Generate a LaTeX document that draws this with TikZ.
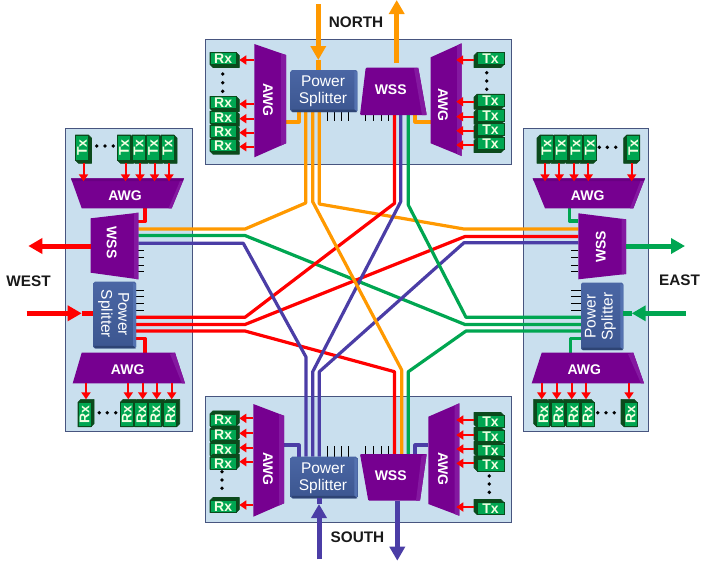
\documentclass[tikz,border=0pt]{standalone}
\usepackage{fontspec}
\setmainfont{Liberation Sans}
\usetikzlibrary{arrows.meta,calc}
\definecolor{panelfill}{HTML}{C9DFEE}
\definecolor{paneledge}{HTML}{47557F}
\definecolor{wor}{HTML}{FF9900}
\definecolor{wre}{HTML}{FF0000}
\definecolor{wgr}{HTML}{00A651}
\definecolor{wpu}{HTML}{4B3DA6}
\definecolor{purp}{HTML}{760090}
\definecolor{purpl}{HTML}{8418A0}
\definecolor{purpd}{HTML}{690082}
\definecolor{stl}{HTML}{5472B0}
\definecolor{sta}{HTML}{4A66A4}
\definecolor{stb}{HTML}{3C5690}
\definecolor{std}{HTML}{2E4474}
\definecolor{gfront}{HTML}{00A651}
\definecolor{gback}{HTML}{0B4A1C}
\definecolor{gtxt}{HTML}{F2FFE2}
\tikzset{
  inv/.style={inner sep=0pt,outer sep=0pt,draw=none},
  panel/.style={inv,fill=panelfill,draw=paneledge,line width=1pt},
  wire/.style={line width=3.2pt,line join=round},
  big/.style={line width=5pt},
  bighead/.style={line width=5pt,-{Triangle[width=15pt,length=14pt]}},
  sarr/.style={wre,line width=2pt,-{Triangle[width=9pt,length=7pt]}},
  tick/.style={black,line width=0.9pt},
  dotty/.style={circle,fill=black,inner sep=0pt,minimum size=3.8pt},
  shapetxt/.style={inv,text=white,font=\fontsize{14}{14}\selectfont\bfseries},
  sptxt/.style={inv,text=white,align=center,font=\fontsize{15.5}{17}\selectfont},
  gtext/.style={inv,text=gtxt,font=\fontsize{14}{14}\selectfont\bfseries},
  title/.style={inv,text=black!90,font=\fontsize{15.3}{16}\selectfont\bfseries},
}
% invisible or styled rectangle given by its corners
\newcommand\bodyrect[6][inv]{%
  \pgfmathsetmacro\bw{abs((#5)-(#3))}\pgfmathsetmacro\bh{abs((#6)-(#4))}%
  \pgfmathsetmacro\bx{((#3)+(#5))/2}\pgfmathsetmacro\by{((#4)+(#6))/2}%
  \node[#1,minimum width=\bw pt,minimum height=\bh pt] (#2) at (\bx,\by) {};}
% 3D green transceiver: name, outer corners, depth dx dy, rotation, text
\newcommand\gbox[9]{%
  \bodyrect{#1}{#2}{#3}{#4}{#5}%
  \pgfmathsetmacro\ga{abs(#6)}\pgfmathsetmacro\gb{abs(#7)}%
  \pgfmathparse{(#6)*(#7)>0?1:0}%
  \ifdim\pgfmathresult pt>0.5pt
    \fill[gback,draw=gback,line width=.6pt,line join=round] (#2,#3) -- (#4-\ga,#3) -- (#4,#3+\gb) -- (#4,#5) -- (#2+\ga,#5) -- (#2,#5-\gb) -- cycle;
  \else
    \fill[gback,draw=gback,line width=.6pt,line join=round] (#2+\ga,#3) -- (#4,#3) -- (#4,#5-\gb) -- (#4-\ga,#5) -- (#2,#5) -- (#2,#3+\gb) -- cycle;
  \fi
  \pgfmathsetmacro\gx{((#2)+(#4)-(#6))/2}\pgfmathsetmacro\gy{((#3)+(#5)-(#7))/2}%
  \pgfmathsetmacro\gwid{abs((#4)-(#2))-\ga}\pgfmathsetmacro\ghei{abs((#5)-(#3))-\gb}%
  \node[inv,fill=gfront,draw=gback,line width=.6pt,minimum width=\gwid pt,minimum height=\ghei pt] (#1f) at (\gx,\gy) {};
  \node[gtext,rotate=#8] (#1t) at (\gx,\gy) {#9};}
% splitter block, main rectangle with bevels
\newcommand\splitter[5]{%
  \shade[top color=sta,bottom color=stb,rounded corners=1.5pt] (#2,#3) rectangle (#4,#5);
  \fill[#1] (#4-3,#3+1) -- (#4,#3+2.5) -- (#4,#5-1) -- (#4-3,#5-2.5) -- cycle;
  \fill[std] (#2+1,#5-2.5) -- (#4-3,#5-2.5) -- (#4,#5) -- (#2+2,#5) -- cycle;}
\begin{document}
\begin{tikzpicture}[x=1pt,y=-1pt]
\useasboundingbox (0,0) rectangle (706,566);
% panels
\bodyrect[panel]{pN}{205.5}{39}{511}{164}
\bodyrect[panel]{pW}{65.5}{128}{192}{431.6}
\bodyrect[panel]{pE}{523}{128}{648.3}{431.6}
\bodyrect[panel]{pS}{205.5}{396}{511}{522.7}
% component footprints
\bodyrect{awgNL}{254.3}{44}{286}{157.3}
\bodyrect{awgNR}{430.7}{43.3}{461.7}{156}
\bodyrect{spN}{290.7}{70}{357.3}{112}
\bodyrect{wssN}{360}{67.7}{426.7}{115}
\bodyrect{awgSL}{253.3}{404}{284}{516.7}
\bodyrect{awgSR}{428.3}{403.3}{459.3}{515.7}
\bodyrect{spS}{290.7}{456.7}{357.3}{498.3}
\bodyrect{wssS}{360}{454}{426.7}{500.7}
\bodyrect{awgWT}{71}{178.3}{184}{208.3}
\bodyrect{awgWB}{72.7}{352.7}{185}{383.3}
\bodyrect{wssW}{90.7}{212.7}{138.3}{279.3}
\bodyrect{spW}{93.3}{281.7}{136}{348.3}
\bodyrect{awgET}{532.7}{178.3}{645}{208.3}
\bodyrect{awgEB}{531.7}{352.7}{644}{383.3}
\bodyrect{wssE}{578.3}{213.3}{626}{279.3}
\bodyrect{spE}{581}{282.7}{623.3}{350}
% way points of the long fibres
\coordinate (o1a) at (245,229);   \coordinate (o1b) at (305.7,203);
\coordinate (o2a) at (312.7,201.7); \coordinate (o2b) at (401.7,370);
\coordinate (o3a) at (319.3,204); \coordinate (o3b) at (464,229);
\coordinate (g1a) at (245,235.5); \coordinate (g1b) at (465,324.5);
\coordinate (p1a) at (243.3,243.3); \coordinate (p1b) at (306,357);
\coordinate (r1a) at (245,317.3); \coordinate (r1b) at (394.5,203.3);
\coordinate (r2a) at (245,324.5); \coordinate (r2b) at (465,236.5);
\coordinate (r3a) at (245,331);   \coordinate (r3b) at (394.5,371.7);
\coordinate (p2a) at (400.7,201.7); \coordinate (p2b) at (312.7,371.7);
\coordinate (g2a) at (408.3,205); \coordinate (g2b) at (466,317.3);
\coordinate (p3a) at (464,242.7); \coordinate (p3b) at (319.3,371.7);
\coordinate (g3a) at (466,331);   \coordinate (g3b) at (408.3,371.7);
% long fibres
\draw[wire,wor] (wssW.east |- o1a) -- (o1a) -- (o1b) -- (spN.south -| o1b);
\draw[wire,wor] (spN.south -| o3a) -- (o3a) -- (o3b) -- (wssE.west |- o3b);
\draw[wire,wgr] (wssW.east |- g1a) -- (g1a) -- (g1b) -- (spE.west |- g1b);
\draw[wire,wre] (spW.east |- r1a) -- (r1a) -- (r1b) -- (wssN.south -| r1b);
\draw[wire,wre] (spW.east |- r2a) -- (r2a) -- (r2b) -- (wssE.west |- r2b);
\draw[wire,wre] (spW.east |- r3a) -- (r3a) -- (r3b) -- (wssS.north -| r3b);
\draw[wire,wpu] (wssW.east |- p1a) -- (p1a) -- (p1b) -- (spS.north -| p1b);
\draw[wire,wpu] (wssN.south -| p2a) -- (p2a) -- (p2b) -- (spS.north -| p2b);
\draw[wire,wpu] (wssE.west |- p3a) -- (p3a) -- (p3b) -- (spS.north -| p3b);
\draw[wire,wgr] (wssN.south -| g2a) -- (g2a) -- (g2b) -- (spE.west |- g2b);
\draw[wire,wgr] (spE.west |- g3a) -- (g3a) -- (g3b) -- (wssS.north -| g3b);
\draw[wire,wor] (spN.south -| o2a) -- (o2a) -- (o2b) -- (wssS.north -| o2b);
% AWG to splitter / WSS stubs
\coordinate (sNa) at (299,122); \coordinate (sNb) at (415,122);
\coordinate (sSa) at (299,445); \coordinate (sSb) at (415,445);
\coordinate (sWa) at (145,221.7); \coordinate (sWb) at (145,338.3);
\coordinate (sEa) at (569.3,221); \coordinate (sEb) at (570.7,338.3);
\draw[wire,wor] (awgNL.east |- sNa) -- (sNa) -- (spN.south -| sNa);
\draw[wire,wor] (awgNR.west |- sNb) -- (sNb) -- (wssN.south -| sNb);
\draw[wire,wpu] (awgSL.east |- sSa) -- (sSa) -- (spS.north -| sSa);
\draw[wire,wpu] (awgSR.west |- sSb) -- (sSb) -- (wssS.north -| sSb);
\draw[wire,wre] (awgWT.south -| sWa) -- (sWa) -- (wssW.east |- sWa);
\draw[wire,wre] (spW.east |- sWb) -- (sWb) -- (awgWB.north -| sWb);
\draw[wire,wgr] (awgET.south -| sEa) -- (sEa) -- (wssE.west |- sEa);
\draw[wire,wgr] (spE.west |- sEb) -- (sEb) -- (awgEB.north -| sEb);
% unused ports
\foreach \i/\x in {a/327.3,b/334.3,c/341.3,d/348.3}{
  \coordinate (tN\i) at (\x,120.5); \draw[tick] (spN.south -| tN\i) -- (tN\i);
  \coordinate (tS\i) at (\x,446);   \draw[tick] (spS.north -| tS\i) -- (tS\i);}
\foreach \i/\x in {a/365.7,b/373.3,c/381,d/388.3}{
  \coordinate (uN\i) at (\x,120.5); \draw[tick] (wssN.south -| uN\i) -- (uN\i);
  \coordinate (uS\i) at (\x,446);   \draw[tick] (wssS.north -| uS\i) -- (uS\i);}
\foreach \i/\y in {a/250,b/257.5,c/265,d/271.7}{
  \coordinate (uW\i) at (143.7,\y); \draw[tick] (wssW.east |- uW\i) -- (uW\i);
  \coordinate (uE\i) at (570.7,\y); \draw[tick] (wssE.west |- uE\i) -- (uE\i);}
\foreach \i/\y in {a/290,b/296.7,c/303.3,d/310}{
  \coordinate (tW\i) at (144,\y);   \draw[tick] (spW.east |- tW\i) -- (tW\i);
  \coordinate (tE\i) at (570.7,\y); \draw[tick] (spE.west |- tE\i) -- (tE\i);}
% AWG bodies
\fill[purp] (254.3,44) -- (286,55) -- (286,143.3) -- (254.3,157.3) -- cycle;
\fill[purpl] (281,53.5) -- (286,55) -- (286,143.3) -- (281,145.5) -- cycle;
\fill[purp] (430.7,57.3) -- (461.7,43.3) -- (461.7,156) -- (430.7,143.3) -- cycle;
\fill[purpl] (457,45.5) -- (461.7,43.3) -- (461.7,156) -- (457,154) -- cycle;
\fill[purp] (253.3,404) -- (284,415.7) -- (284,503.3) -- (253.3,516.7) -- cycle;
\fill[purpl] (279,414) -- (284,415.7) -- (284,503.3) -- (279,505.5) -- cycle;
\fill[purp] (428.3,416.7) -- (459.3,403.3) -- (459.3,515.7) -- (428.3,504) -- cycle;
\fill[purpl] (454.5,405.5) -- (459.3,403.3) -- (459.3,515.7) -- (454.5,514) -- cycle;
\fill[purp] (71,178.3) -- (184,178.3) -- (171.7,208.3) -- (81.7,208.3) -- cycle;
\fill[purpd] (71,178.3) -- (184,178.3) -- (183,181) -- (72,181) -- cycle;
\fill[purpl] (180,181) -- (183,181) -- (171.7,208.3) -- (168.5,208.3) -- cycle;
\fill[purp] (532.7,178.3) -- (645,178.3) -- (633.3,208.3) -- (545,208.3) -- cycle;
\fill[purpd] (532.7,178.3) -- (645,178.3) -- (644,181) -- (533.7,181) -- cycle;
\fill[purpl] (640.5,181) -- (644,181) -- (633.3,208.3) -- (630,208.3) -- cycle;
\fill[purp] (81.7,352.7) -- (175,352.7) -- (185,383.3) -- (72.7,383.3) -- cycle;
\fill[purpl] (170,354) -- (175,352.7) -- (185,383.3) -- (182,383.3) -- cycle;
\fill[purp] (541.7,352.7) -- (633.3,352.7) -- (644,383.3) -- (531.7,383.3) -- cycle;
\fill[purpl] (628,354) -- (633.3,352.7) -- (644,383.3) -- (641,383.3) -- cycle;
% WSS bodies
\fill[purp,rounded corners=1pt] (365.7,67.7) -- (418.3,67.7) -- (426.7,115) -- (360,115) -- cycle;
\fill[purpl] (414,68.5) -- (418.3,67.7) -- (426.7,115) -- (422,115) -- cycle;
\fill[purp,rounded corners=1pt] (360,454) -- (426.7,454) -- (420,500.7) -- (368.3,500.7) -- cycle;
\fill[purpl] (421.5,456) -- (426.7,454) -- (420,500.7) -- (416,500.7) -- cycle;
\fill[purp] (90.7,218.3) -- (138.3,212.7) -- (138.3,279.3) -- (90.7,272.7) -- cycle;
\fill[purpl] (134,213.2) -- (138.3,212.7) -- (138.3,279.3) -- (134,278.7) -- cycle;
\fill[purp] (578.3,213.3) -- (626,219.3) -- (626,274) -- (578.3,279.3) -- cycle;
\fill[purpl] (621.5,218.8) -- (626,219.3) -- (626,274) -- (621.5,274.5) -- cycle;
% splitters
\splitter{stl}{290.7}{70}{357.3}{112}
\splitter{stl}{290.7}{456.7}{357.3}{498.3}
\splitter{stl}{93.3}{281.7}{136}{348.3}
\splitter{stl}{581}{282.7}{623.3}{350}
% body labels
\node[shapetxt,rotate=-90] (awgNLt) at (268,100) {AWG};
\node[shapetxt,rotate=-90] (awgNRt) at (443,105) {AWG};
\node[shapetxt,rotate=-90] (awgSLt) at (268,469) {AWG};
\node[shapetxt,rotate=-90] (awgSRt) at (443,469) {AWG};
\node[shapetxt] (awgWTt) at (125,196) {AWG};
\node[shapetxt] (awgWBt) at (127.7,369.3) {AWG};
\node[shapetxt] (awgETt) at (587.7,196) {AWG};
\node[shapetxt] (awgEBt) at (584.3,369.3) {AWG};
\node[shapetxt] (wssNt) at (390.7,89.3) {WSS};
\node[shapetxt] (wssSt) at (390.7,476) {WSS};
\node[shapetxt,rotate=-90] (wssWt) at (111.7,242.7) {WSS};
\node[shapetxt,rotate=90] (wssEt) at (600.7,246.7) {WSS};
\node[sptxt] (spNt) at (323,91) {Power\\Splitter};
\node[sptxt] (spSt) at (323,478) {Power\\Splitter};
\node[sptxt,rotate=-90] (spWt) at (113.5,314) {Power\\Splitter};
\node[sptxt,rotate=90] (spEt) at (600.5,316.7) {Power\\Splitter};
% North transceivers
\foreach \n/\y in {a/60,b/104,c/118.7,d/132.7,e/146.7}{
  \gbox{rxN\n}{210}{\y-7.5}{239.3}{\y+7.5}{3}{3}{0}{Rx}
  \draw[sarr] (awgNL.west |- rxN\n) -- (rxN\n.east);}
\foreach \n/\y in {a/60,b/101.7,c/116.7,d/130.7,e/145}{
  \gbox{txN\n}{474}{\y-7.5}{504}{\y+7.5}{-3}{3}{0}{Tx}
  \draw[sarr,shorten >=-5.5pt] (txN\n.west) -- (awgNR.east |- txN\n);}
% South transceivers
\foreach \n/\y in {a/418.3,b/433.3,c/447.7,d/461.7,e/505}{
  \gbox{rxS\n}{210}{\y-7.5}{239.3}{\y+7.5}{3}{-3}{0}{Rx}
  \draw[sarr] (awgSL.west |- rxS\n) -- (rxS\n.east);}
\foreach \n/\y in {a/420,b/435,c/449,d/463.3,e/507}{
  \gbox{txS\n}{474}{\y-7.5}{504}{\y+7.5}{-3}{-3}{0}{Tx}
  \draw[sarr,shorten >=-3pt] (txS\n.west) -- (awgSR.east |- txS\n);}
% West transceivers
\foreach \n/\x in {a/83.5,b/125.5,c/140,d/154.5,e/169}{
  \gbox{txW\n}{\x-8}{135}{\x+8}{163.3}{3}{3}{90}{Tx}
  \draw[sarr,shorten >=-3pt] (txW\n.south) -- (awgWT.north -| txW\n);}
\foreach \n/\x in {a/86,b/128.3,c/142.7,d/156.7,e/171.7}{
  \gbox{rxW\n}{\x-8}{399.3}{\x+8}{426.7}{3}{-3}{90}{Rx}
  \draw[sarr] (awgWB.south -| rxW\n) -- (rxW\n.north);}
% East transceivers
\foreach \n/\x in {a/631.7,b/588.3,c/574,d/559.3,e/545}{
  \gbox{txE\n}{\x-8}{135}{\x+8}{163.3}{-3}{3}{90}{Tx}
  \draw[sarr,shorten >=-3pt] (txE\n.south) -- (awgET.north -| txE\n);}
\foreach \n/\x in {a/629,b/586,c/571.7,d/556.7,e/541.7}{
  \gbox{rxE\n}{\x-8}{399.3}{\x+8}{426.7}{-3}{-3}{90}{Rx}
  \draw[sarr] (awgEB.south -| rxE\n) -- (rxE\n.north);}
% ellipsis dots
\foreach \i/\y in {a/74,b/82.7,c/91.3}{\node[dotty] (dNL\i) at (222.7,\y) {};}
\foreach \i/\y in {a/72.7,b/81,c/89.3}{\node[dotty] (dNR\i) at (486.7,\y) {};}
\foreach \i/\y in {a/471.7,b/480,c/488.3}{\node[dotty] (dSL\i) at (222,\y) {};}
\foreach \i/\y in {a/476,b/484,c/492.3}{\node[dotty] (dSR\i) at (489.3,\y) {};}
\foreach \i/\x in {a/96.7,b/105,c/113.3}{\node[dotty] (dWT\i) at (\x,146) {};}
\foreach \i/\x in {a/99.3,b/107.3,c/115.7}{\node[dotty] (dWB\i) at (\x,412.7) {};}
\foreach \i/\x in {a/599.3,b/607.3,c/615.7}{\node[dotty] (dET\i) at (\x,147.3) {};}
\foreach \i/\x in {a/597.7,b/606,c/614.3}{\node[dotty] (dEB\i) at (\x,412.7) {};}
% port arrows
\coordinate (nIn) at (318.3,4); \coordinate (nInT) at (318.3,60);
\draw[big,wor] (nInT) -- (spN.north -| nInT);
\draw[bighead,wor] (nIn) -- (nInT);
\coordinate (nOut) at (396.7,0);
\draw[bighead,wor,shorten <=4.5pt] (wssN.north -| nOut) -- (nOut);
\coordinate (sIn) at (319,559.3); \coordinate (sInT) at (319,504);
\draw[big,wpu] (sInT) -- (spS.south -| sInT);
\draw[bighead,wpu] (sIn) -- (sInT);
\coordinate (sOut) at (397.3,560.7);
\draw[bighead,wpu] (wssS.south -| sOut) -- (sOut);
\coordinate (wIn) at (26.7,313.3); \coordinate (wInT) at (81.7,313.3);
\draw[big,wre] (wInT) -- (spW.west |- wInT);
\draw[bighead,wre] (wIn) -- (wInT);
\coordinate (wOut) at (28.3,246);
\draw[bighead,wre] (wssW.west |- wOut) -- (wOut);
\coordinate (eIn) at (686,313.3); \coordinate (eInT) at (631.7,313.3);
\draw[big,wgr] (eInT) -- (spE.east |- eInT);
\draw[bighead,wgr] (eIn) -- (eInT);
\coordinate (eOut) at (685,246);
\draw[bighead,wgr] (wssE.east |- eOut) -- (eOut);
% port titles
\node[title] (tNorth) at (356,22) {NORTH};
\node[title] (tSouth) at (357.5,537) {SOUTH};
\node[title] (tWest) at (28.5,281) {WEST};
\node[title] (tEast) at (679.5,280) {EAST};
\end{tikzpicture}
\end{document}
